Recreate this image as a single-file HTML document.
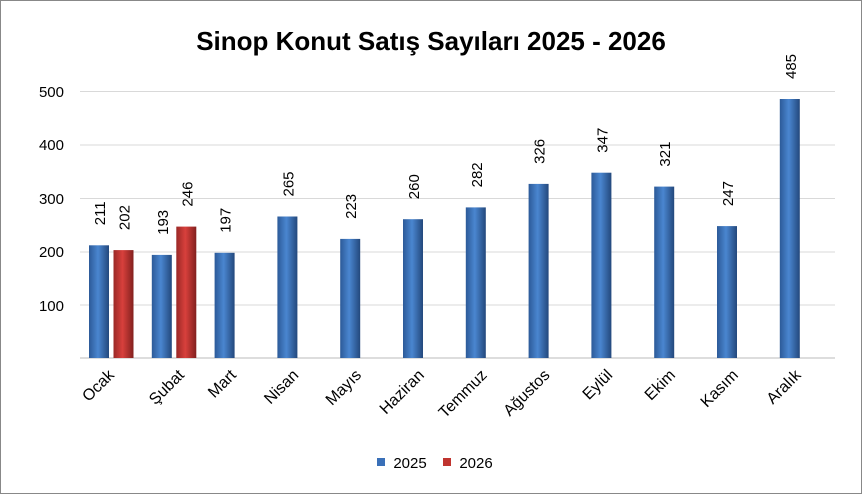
<!DOCTYPE html>
<html><head><meta charset="utf-8"><style>
body{margin:0;background:#fff;}
</style></head><body>
<svg width="862" height="494" xmlns="http://www.w3.org/2000/svg" font-family="Liberation Sans, sans-serif">
<defs>
<linearGradient id="b" x1="0" x2="1"><stop offset="0" stop-color="#2c5a98"/><stop offset="0.45" stop-color="#4a86d0"/><stop offset="1" stop-color="#23487c"/></linearGradient>
<linearGradient id="r" x1="0" x2="1"><stop offset="0" stop-color="#9a2826"/><stop offset="0.45" stop-color="#d8403c"/><stop offset="1" stop-color="#82201e"/></linearGradient>
</defs>
<rect x="0.5" y="0.5" width="861" height="493" fill="#fff" stroke="#888"/>
<text x="431" y="50" text-anchor="middle" font-size="26" font-weight="bold">Sinop Konut Satış Sayıları  2025 - 2026</text>
<g stroke="#d9d9d9" stroke-width="1">
<line x1="80" x2="835" y1="91.5" y2="91.5"/><line x1="80" x2="835" y1="145" y2="145"/><line x1="80" x2="835" y1="198.5" y2="198.5"/><line x1="80" x2="835" y1="252" y2="252"/><line x1="80" x2="835" y1="305" y2="305"/>
</g>
<line x1="80" x2="835" y1="358" y2="358" stroke="#bbb"/>
<g font-size="15" text-anchor="end" fill="#000">
<text x="64" y="97">500</text><text x="64" y="150">400</text><text x="64" y="204">300</text><text x="64" y="257">200</text><text x="64" y="311">100</text>
</g>
<g>
<rect x="89" y="245.3" width="20" height="112.7" fill="url(#b)"/>
<rect x="113.5" y="250.1" width="20" height="107.9" fill="url(#r)"/>
<rect x="151.8" y="254.9" width="20" height="103.1" fill="url(#b)"/>
<rect x="176.3" y="226.6" width="20" height="131.4" fill="url(#r)"/>
<rect x="214.6" y="252.8" width="20" height="105.2" fill="url(#b)"/>
<rect x="277.4" y="216.5" width="20" height="141.5" fill="url(#b)"/>
<rect x="340.2" y="238.9" width="20" height="119.1" fill="url(#b)"/>
<rect x="403" y="219.2" width="20" height="138.8" fill="url(#b)"/>
<rect x="465.8" y="207.4" width="20" height="150.6" fill="url(#b)"/>
<rect x="528.6" y="183.9" width="20" height="174.1" fill="url(#b)"/>
<rect x="591.4" y="172.7" width="20" height="185.3" fill="url(#b)"/>
<rect x="654.2" y="186.6" width="20" height="171.4" fill="url(#b)"/>
<rect x="717" y="226.1" width="20" height="131.9" fill="url(#b)"/>
<rect x="779.8" y="99" width="20" height="259" fill="url(#b)"/>
</g>
<g font-size="15" transform="translate(1,-12)">
<text transform="translate(104,237.3) rotate(-90)">211</text>
<text transform="translate(128.5,242.1) rotate(-90)">202</text>
<text transform="translate(166.8,246.9) rotate(-90)">193</text>
<text transform="translate(191.3,218.6) rotate(-90)">246</text>
<text transform="translate(229.6,244.8) rotate(-90)">197</text>
<text transform="translate(292.4,208.5) rotate(-90)">265</text>
<text transform="translate(355.2,230.9) rotate(-90)">223</text>
<text transform="translate(418,211.2) rotate(-90)">260</text>
<text transform="translate(480.8,199.4) rotate(-90)">282</text>
<text transform="translate(543.6,175.9) rotate(-90)">326</text>
<text transform="translate(606.4,164.7) rotate(-90)">347</text>
<text transform="translate(669.2,178.6) rotate(-90)">321</text>
<text transform="translate(732,218.1) rotate(-90)">247</text>
<text transform="translate(794.8,91) rotate(-90)">485</text>
</g>
<g font-size="16" text-anchor="end">
<text transform="translate(115,376) rotate(-45)">Ocak</text>
<text transform="translate(185,376) rotate(-45)">Şubat</text>
<text transform="translate(237,376) rotate(-45)">Mart</text>
<text transform="translate(299.4,376) rotate(-45)">Nisan</text>
<text transform="translate(362.2,376) rotate(-45)">Mayıs</text>
<text transform="translate(425,376) rotate(-45)">Haziran</text>
<text transform="translate(487.8,376) rotate(-45)">Temmuz</text>
<text transform="translate(550.6,376) rotate(-45)">Ağustos</text>
<text transform="translate(613.4,376) rotate(-45)">Eylül</text>
<text transform="translate(676.2,376) rotate(-45)">Ekim</text>
<text transform="translate(739,376) rotate(-45)">Kasım</text>
<text transform="translate(801.8,376) rotate(-45)">Aralık</text>
</g>
<g font-size="15" text-anchor="middle">
<rect x="377" y="458" width="8" height="8" fill="#3a70b8"/><text x="410" y="468">2025</text>
<rect x="443" y="458" width="8" height="8" fill="#c0342f"/><text x="476" y="468">2026</text>
</g>
</svg>
</body></html>
